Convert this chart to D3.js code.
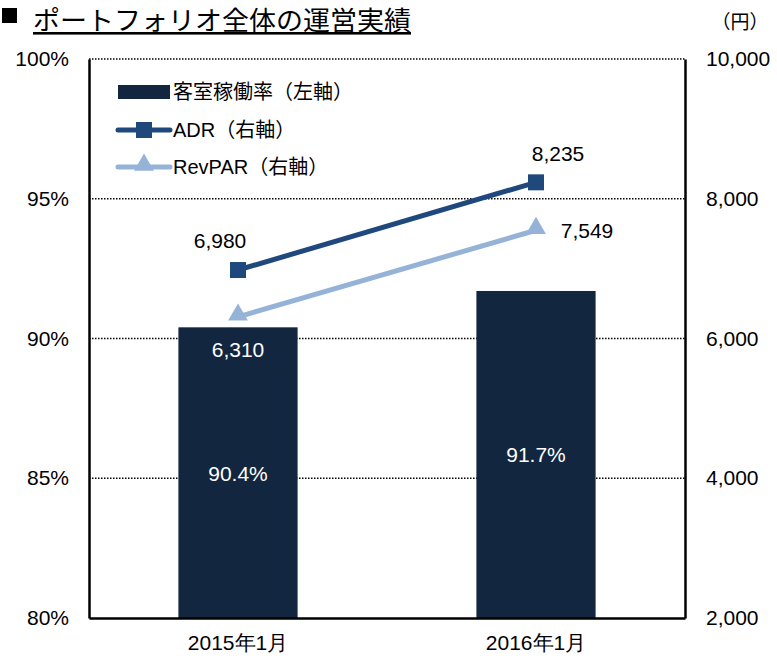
<!DOCTYPE html>
<html>
<head>
<meta charset="utf-8">
<script src="https://cdn.jsdelivr.net/npm/d3@7"></script>
<style>
  body { margin: 0; background: #fff; }
  svg { display: block; font-family: "Liberation Sans", Arial, "Noto Sans CJK JP", sans-serif; }
</style>
</head>
<body>
<svg id="chart" width="777" height="659"></svg>
<script>
// data
var categories = ["2015年1月", "2016年1月"];
var occupancy = [90.4, 91.7];          // 客室稼働率 (%), left axis
var adr = [6980, 8235];                // ADR (円), right axis
var revpar = [6310, 7549];             // RevPAR (円), right axis
var leftTicks = [80, 85, 90, 95, 100];
var rightTicks = [2000, 4000, 6000, 8000, 10000];

var navy = "#13263f";
var adrColor = "#1f497d";
var revColor = "#95b3d7";

var svg = d3.select("#chart");
var pLeft = 89, pRight = 685, pTop = 59, pBottom = 618;

var x = d3.scaleBand().domain(categories).range([pLeft, pRight]);
var yL = d3.scaleLinear().domain([80, 100]).range([pBottom, pTop]);
var yR = d3.scaleLinear().domain([2000, 10000]).range([pBottom, pTop]);
var fmt = d3.format(",");
function cx(i){ return x(categories[i]) + x.bandwidth() / 2; }

// title
svg.append("rect").attr("x", 2).attr("y", 8).attr("width", 15).attr("height", 15).attr("fill", "#000");
svg.append("text")
    .attr("x", 33).attr("y", 30)
    .style("font-family", "'Noto Sans CJK JP', sans-serif")
    .style("font-size", "26px")
    .style("text-decoration", "underline")
    .attr("textLength", 378)
    .attr("lengthAdjust", "spacingAndGlyphs")
    .text("ポートフォリオ全体の運営実績");
svg.append("text")
    .attr("x", 740).attr("y", 29)
    .attr("text-anchor", "middle")
    .style("font-family", "'Noto Sans CJK JP', sans-serif")
    .style("font-size", "19px")
    .text("（円）");

// gridlines (dotted)
svg.append("g").selectAll("line")
    .data(leftTicks.filter(function(d){ return d > 80; }))
    .enter().append("line")
    .attr("x1", pLeft).attr("x2", pRight)
    .attr("y1", function(d){ return yL(d); })
    .attr("y2", function(d){ return yL(d); })
    .attr("stroke", "#000")
    .attr("stroke-width", 1.5)
    .attr("stroke-dasharray", "1.5,1.5");

// bars
var bw = x.bandwidth() * 0.4;
svg.append("g").selectAll("rect")
    .data(occupancy)
    .enter().append("rect")
    .attr("x", function(d, i){ return cx(i) - bw / 2; })
    .attr("y", function(d){ return yL(d); })
    .attr("width", bw)
    .attr("height", function(d){ return pBottom - yL(d); })
    .attr("fill", navy);

svg.append("g").selectAll("text")
    .data(occupancy)
    .enter().append("text")
    .attr("x", function(d, i){ return cx(i); })
    .attr("y", function(d){ return (yL(d) + pBottom) / 2 + 8; })
    .attr("text-anchor", "middle")
    .attr("fill", "#fff")
    .style("font-size", "21px")
    .text(function(d){ return d.toFixed(1) + "%"; });

// axes
var axisL = d3.axisLeft(yL).tickValues(leftTicks).tickSize(0).tickPadding(20)
    .tickFormat(function(d){ return d + "%"; });
var axisR = d3.axisRight(yR).tickValues(rightTicks).tickSize(0).tickPadding(21)
    .tickFormat(fmt);
var axisB = d3.axisBottom(x).tickSize(0).tickPadding(17);

function styleAxis(g) {
    g.select(".domain").attr("stroke", "#000").attr("stroke-width", 2.5);
    g.selectAll("text").style("font-size", "21px").attr("fill", "#000");
}
svg.append("g").attr("transform", "translate(" + pLeft + ",0)").call(axisL).call(styleAxis);
svg.append("g").attr("transform", "translate(" + pRight + ",0)").call(axisR).call(styleAxis);
svg.append("g").attr("transform", "translate(0," + pBottom + ")").call(axisB).call(styleAxis);

// lines
var line = d3.line()
    .x(function(d, i){ return cx(i); })
    .y(function(d){ return yR(d); });

svg.append("path").datum(revpar).attr("d", line)
    .attr("fill", "none").attr("stroke", revColor).attr("stroke-width", 5);
svg.append("path").datum(adr).attr("d", line)
    .attr("fill", "none").attr("stroke", adrColor).attr("stroke-width", 5);

var tri = d3.symbol().type(d3.symbolTriangle).size(170);
svg.append("g").selectAll("path")
    .data(revpar)
    .enter().append("path")
    .attr("d", tri)
    .attr("transform", function(d, i){ return "translate(" + cx(i) + "," + (yR(d) - 2) + ")"; })
    .attr("fill", revColor);

svg.append("g").selectAll("rect")
    .data(adr)
    .enter().append("rect")
    .attr("x", function(d, i){ return cx(i) - 8; })
    .attr("y", function(d){ return yR(d) - 8; })
    .attr("width", 16).attr("height", 16)
    .attr("fill", adrColor);

// value labels (offsets from each point)
var adrOff = [[-18, -22], [22, -21]];
var revOff = [[0, 40], [51, 8]];
svg.append("g").selectAll("text")
    .data(adr)
    .enter().append("text")
    .attr("x", function(d, i){ return cx(i) + adrOff[i][0]; })
    .attr("y", function(d, i){ return yR(d) + adrOff[i][1]; })
    .attr("text-anchor", "middle")
    .style("font-size", "21px")
    .text(fmt);
svg.append("g").selectAll("text")
    .data(revpar)
    .enter().append("text")
    .attr("x", function(d, i){ return cx(i) + revOff[i][0]; })
    .attr("y", function(d, i){ return yR(d) + revOff[i][1]; })
    .attr("text-anchor", "middle")
    .attr("fill", function(d, i){ return i === 0 ? "#fff" : "#000"; })
    .style("font-size", "21px")
    .text(fmt);

// legend
var legend = svg.append("g").attr("transform", "translate(118,0)");
var legendY = [92, 130, 167];
var legendText = ["客室稼働率（左軸）", "ADR（右軸）", "RevPAR（右軸）"];
legend.append("rect").attr("x", 0).attr("y", legendY[0] - 7).attr("width", 52).attr("height", 14).attr("fill", navy);
legend.append("line").attr("x1", 0).attr("x2", 52).attr("y1", legendY[1]).attr("y2", legendY[1])
    .attr("stroke", adrColor).attr("stroke-width", 5).attr("stroke-linecap", "round");
legend.append("rect").attr("x", 18).attr("y", legendY[1] - 8).attr("width", 16).attr("height", 16).attr("fill", adrColor);
legend.append("line").attr("x1", 0).attr("x2", 52).attr("y1", legendY[2]).attr("y2", legendY[2])
    .attr("stroke", revColor).attr("stroke-width", 5).attr("stroke-linecap", "round");
legend.append("path").attr("d", tri).attr("transform", "translate(26," + (legendY[2] - 2) + ")").attr("fill", revColor);
legend.selectAll("text.lg")
    .data(legendText)
    .enter().append("text")
    .attr("class", "lg")
    .attr("x", 55)
    .attr("y", function(d, i){ return legendY[i] + 7; })
    .style("font-size", "20px")
    .text(function(d){ return d; });
</script>
</body>
</html>
